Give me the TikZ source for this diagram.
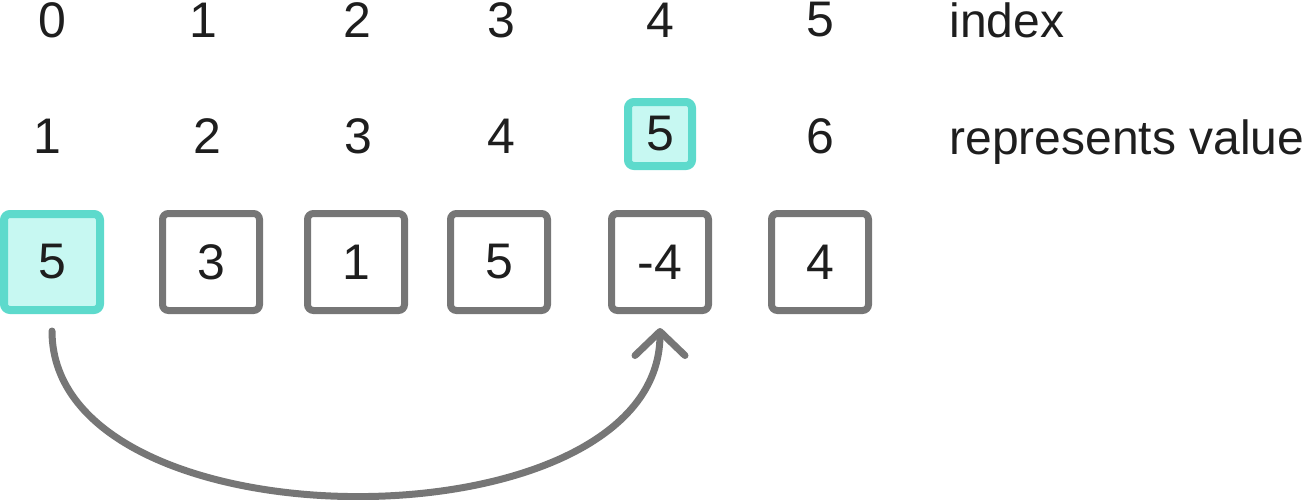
\documentclass[tikz,border=0pt]{standalone}
\usepackage{fontspec}
\setmainfont{Liberation Sans}
\usetikzlibrary{arrows.meta}
\definecolor{ink}{HTML}{1E1E1E}
\definecolor{boxgray}{HTML}{767676}
\definecolor{tealline}{HTML}{5DDACC}
\definecolor{tealfill}{HTML}{C7F8F2}
\tikzstyle{digit}=[font=\fontsize{25}{30}\selectfont, text=ink, inner sep=0pt]
\tikzstyle{tag}=[digit, font=\fontsize{24}{29}\selectfont, anchor=base west]
\tikzstyle{cell}=[digit, draw=boxgray, line width=3.5pt, rounded corners=3pt, minimum size=48.5pt]
\tikzstyle{hotcell}=[cell, draw=tealline, fill=tealfill, line width=4pt, minimum size=48pt]
\tikzstyle{hotvalue}=[digit, draw=tealline, fill=tealfill, line width=4pt, rounded corners=3pt, minimum size=32pt]
\tikzstyle{link} = [draw=boxgray, line width=3.5pt, line cap=round, -{Straight Barb[length=12pt,width=25pt,round]}, shorten <=8.5pt, shorten >=7pt]

\begin{document}
\begin{tikzpicture}[x=0.5pt, y=-0.5pt]
    \useasboundingbox (0,0) rectangle (1314,499);

    % index row
    \foreach \pos/ \name / \val in {{(52,20)/idx0/0},{(203,20)/idx1/1},{(357,20)/idx2/2},{(501,20)/idx3/3},{(660,20)/idx4/4},{(820,20)/idx5/5}}
        \node[digit] (\name) at \pos {\val};
    \node[tag] (idxtag) at (949,37) {index};

    % values the slots stand for
    \foreach \pos/ \name / \val in {{(47,136)/rep0/1},{(207,136)/rep1/2},{(358,136)/rep2/3},{(501,136)/rep3/4},{(820,136)/rep5/6}}
        \node[digit] (\name) at \pos {\val};
    \node[hotvalue] (rep4) at (660,134) {5};
    \node[tag] (reptag) at (949,154) {represents value};

    % the array
    \node[hotcell] (cell0) at (52,262) {5};
    \foreach \pos/ \name / \val in {{(211,262)/cell1/3},{(356,262)/cell2/1},{(499,262)/cell3/5},{(660,262)/cell4/-4},{(820,262)/cell5/4}}
        \node[cell] (\name) at \pos {\val};

    % jump from the first cell to slot 4
    \draw[link] (cell0.south) to[out=270, in=270, looseness=1.0] (cell4.south);

\end{tikzpicture}
\end{document}
